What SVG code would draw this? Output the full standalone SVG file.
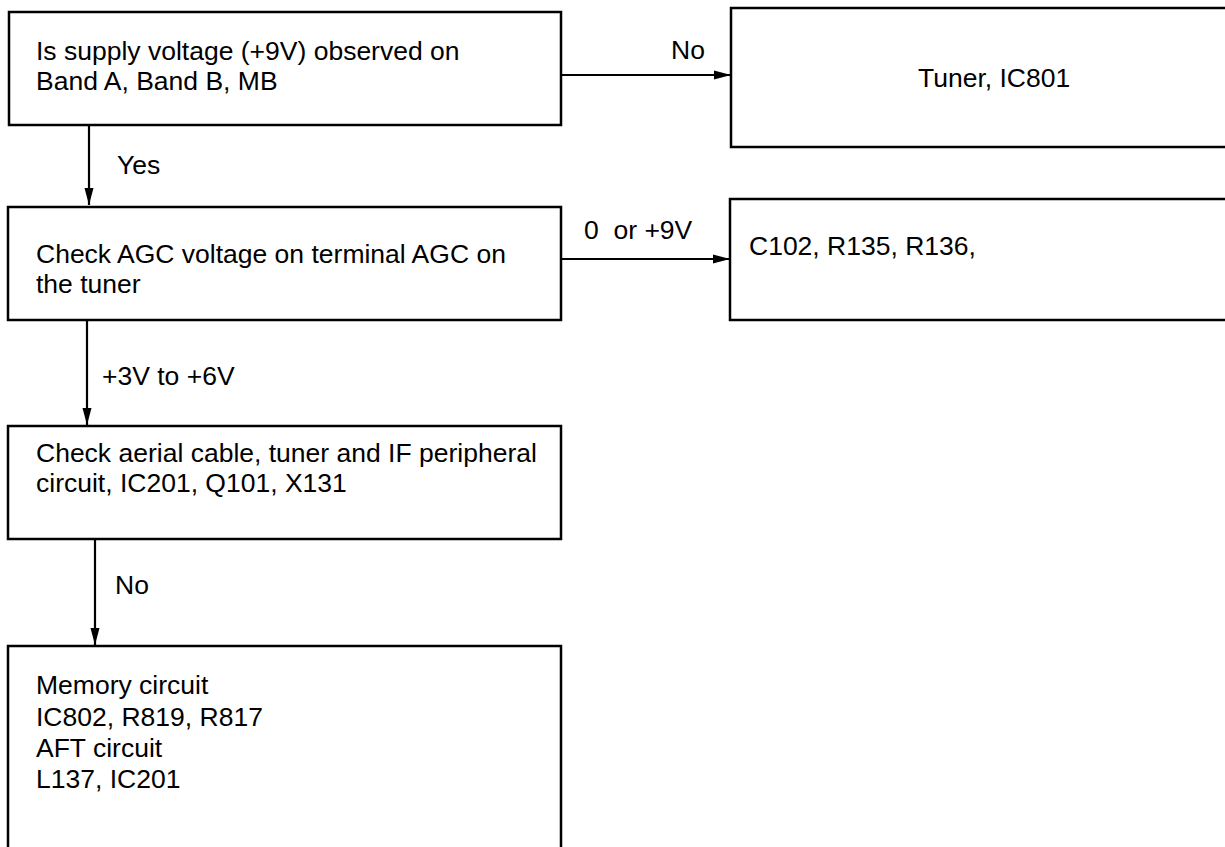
<svg xmlns="http://www.w3.org/2000/svg" width="1225" height="847" viewBox="0 0 1225 847">
<defs>
<marker id="ah" markerWidth="17" markerHeight="10" refX="17" refY="5" orient="auto" markerUnits="userSpaceOnUse">
<path d="M0,0.5 L17,5 L0,9.5 Z" fill="#000"/>
</marker>
<style>
.box{fill:#fff;stroke:#000;stroke-width:2.5}
.t{font-family:"Liberation Sans",Arial,sans-serif;font-size:26.5px;fill:#000;white-space:pre}
.c{stroke:#000;stroke-width:2.2;fill:none;marker-end:url(#ah)}
</style>
</defs>
<rect width="1225" height="847" fill="#fff"/>
<g id="connectors">
<line class="c" x1="562" y1="75" x2="731" y2="75"/>
<line class="c" x1="89" y1="125" x2="89" y2="205"/>
<line class="c" x1="561" y1="259" x2="730" y2="259"/>
<line class="c" x1="87" y1="320" x2="87" y2="425"/>
<line class="c" x1="95" y1="539" x2="95" y2="645"/>
<text class="t" x="671" y="59">No</text>
<text class="t" x="117" y="174">Yes</text>
<text class="t" x="584" y="239" xml:space="preserve">0  or +9V</text>
<text class="t" x="102" y="385">+3V to +6V</text>
<text class="t" x="115" y="594">No</text>
</g>
<g id="n1">
<rect class="box" x="9" y="12" width="552" height="113"/>
<text class="t" x="36" y="60">Is supply voltage (+9V) observed on</text>
<text class="t" x="36" y="90">Band A, Band B, MB</text>
</g>
<g id="n2">
<rect class="box" x="731" y="8" width="520" height="139"/>
<text class="t" x="918" y="87">Tuner, IC801</text>
</g>
<g id="n3">
<rect class="box" x="8" y="207" width="553" height="113"/>
<text class="t" x="36" y="263">Check AGC voltage on terminal AGC on</text>
<text class="t" x="36" y="293">the tuner</text>
</g>
<g id="n4">
<rect class="box" x="730" y="199" width="520" height="121"/>
<text class="t" x="749" y="255">C102, R135, R136,</text>
</g>
<g id="n5">
<rect class="box" x="8" y="426" width="553" height="113"/>
<text class="t" x="36" y="462">Check aerial cable, tuner and IF peripheral</text>
<text class="t" x="36" y="492">circuit, IC201, Q101, X131</text>
</g>
<g id="n6">
<rect class="box" x="8" y="646" width="553" height="230"/>
<text class="t" x="36" y="694">Memory circuit</text>
<text class="t" x="36" y="726">IC802, R819, R817</text>
<text class="t" x="36" y="757">AFT circuit</text>
<text class="t" x="36" y="788">L137, IC201</text>
</g>
</svg>
